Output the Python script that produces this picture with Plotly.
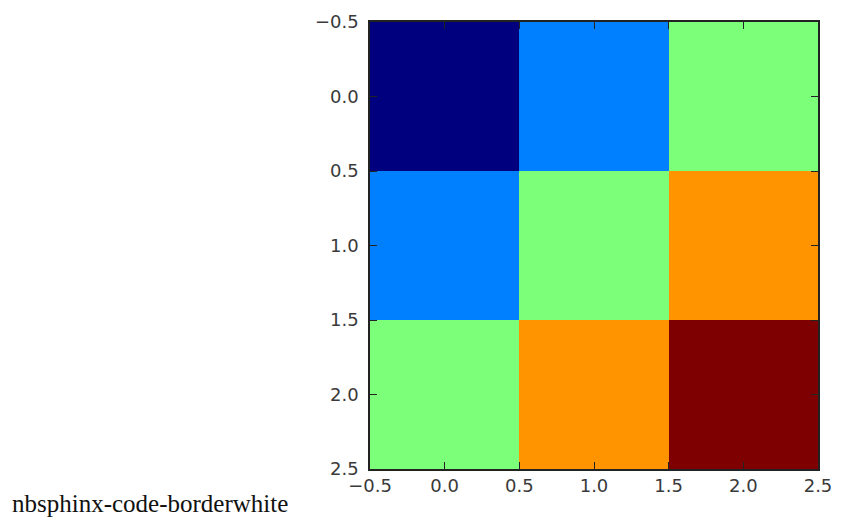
import plotly.graph_objects as go

# data
rows = [0, 1, 2]
cols = [0, 1, 2]
values = [[0, 1, 2],
          [1, 2, 3],
          [2, 3, 4]]
tick_vals = [-0.5, 0.0, 0.5, 1.0, 1.5, 2.0, 2.5]
tick_text = ["\u22120.5", "0.0", "0.5", "1.0", "1.5", "2.0", "2.5"]
caption = "nbsphinx-code-borderwhite"

jet = [[0.0, "#00007f"], [0.25, "#007fff"], [0.5, "#7cff79"],
       [0.75, "#ff9400"], [1.0, "#7f0000"]]

fig = go.Figure(go.Heatmap(
    x=cols, y=rows, z=values, zmin=0, zmax=4,
    colorscale=jet, showscale=False, hoverinfo="skip"))

axis_common = dict(
    tickmode="array", tickvals=tick_vals, ticktext=tick_text,
    ticks="inside", ticklen=7, tickwidth=1, tickcolor="#222",
    showline=True, linecolor="#222", linewidth=1.5, mirror="ticks",
    showgrid=False, zeroline=False, automargin=False,
    ticklabeloverflow="allow",
    tickfont=dict(family="DejaVu Sans", size=18, color="#3a3a3a"),
)

fig.update_xaxes(range=[-0.5, 2.5], ticklabelstandoff=0, **axis_common)
fig.update_yaxes(range=[2.5, -0.5], ticklabelstandoff=6, **axis_common)

fig.add_annotation(
    text=caption, xref="paper", yref="paper",
    x=-360 / 448, y=-19 / 447, xanchor="left", yanchor="top",
    showarrow=False,
    font=dict(family="Liberation Serif", size=25, color="#111"))

# page body has an 8px margin: figure is offset by 8px right and down
fig.update_layout(
    width=833, height=509,
    margin=dict(l=362, r=23, t=14, b=48, autoexpand=False),
    paper_bgcolor="white", plot_bgcolor="white",
)

fig.write_html("out.html")
